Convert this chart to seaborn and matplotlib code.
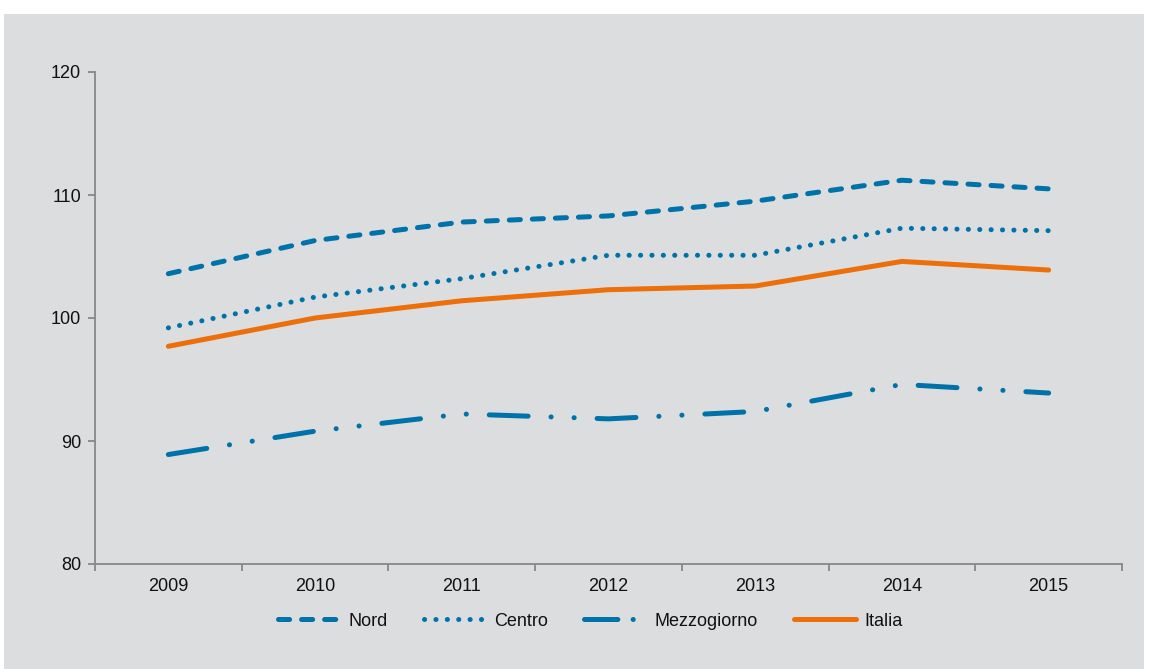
import pandas as pd
import matplotlib
matplotlib.use("Agg")
import matplotlib.pyplot as plt
from matplotlib.lines import Line2D
from matplotlib.patches import Rectangle
import seaborn as sns

# Data (index values)
anni = ["2009", "2010", "2011", "2012", "2013", "2014", "2015"]
nord = [103.6, 106.3, 107.8, 108.3, 109.5, 111.2, 110.5]
centro = [99.2, 101.7, 103.2, 105.1, 105.1, 107.3, 107.1]
mezzogiorno = [88.9, 90.8, 92.2, 91.8, 92.4, 94.6, 93.9]
italia = [97.7, 100.0, 101.4, 102.3, 102.6, 104.6, 103.9]

series = {"Nord": nord, "Centro": centro, "Mezzogiorno": mezzogiorno, "Italia": italia}
df = pd.DataFrame([
    {"anno": i, "area": nome, "valore": v}
    for nome, vals in series.items()
    for i, v in enumerate(vals)
])

bg = "#DCDDDF"
blu = "#0072AA"
arancio = "#EC6F0A"
grigio = "#878787"
testo = "#111111"

sns.set_theme(style="white")
plt.rcParams["font.family"] = ["Liberation Sans", "DejaVu Sans"]
plt.rcParams["lines.scale_dashes"] = False

fig = plt.figure(figsize=(11.49, 6.69), dpi=100)
fig.patch.set_facecolor("white")
fig.patches.append(Rectangle((4 / 1149, 0), 1140 / 1149, 655 / 669,
                             transform=fig.transFigure, facecolor=bg,
                             edgecolor="none", zorder=-10))

ax = fig.add_axes([95 / 1149, 105 / 669, 1027 / 1149, 492 / 669])
ax.set_facecolor("none")

palette = {"Nord": blu, "Centro": blu, "Mezzogiorno": blu, "Italia": arancio}
dashes = {
    "Nord": (8, 8.6),
    "Centro": (0.1, 8.1),
    "Mezzogiorno": (28, 16.5, 0.1, 16.5, 0.1, 16.5),
    "Italia": "",
}
sns.lineplot(data=df, x="anno", y="valore", hue="area", style="area",
             palette=palette, dashes=dashes, linewidth=3.6, ax=ax,
             legend=False)
for line in ax.get_lines():
    line.set_dash_capstyle("round")
    line.set_solid_capstyle("round")

ax.set_xlim(-0.5, 6.5)
ax.set_ylim(80, 120)
ax.set_yticks([80, 90, 100, 110, 120])
ax.set_xticks(range(len(anni)))
ax.set_xticklabels(anni)
ax.set_xticks([i + 0.5 for i in range(-1, 7)], minor=True)
ax.set_xlabel("")
ax.set_ylabel("")

for s in ["top", "right"]:
    ax.spines[s].set_visible(False)
for s in ["left", "bottom"]:
    ax.spines[s].set_color(grigio)
    ax.spines[s].set_linewidth(1.3)

ax.tick_params(axis="y", which="major", length=5, width=1.3, color=grigio,
               labelsize=13, labelcolor=testo, pad=5, left=True)
ax.tick_params(axis="x", which="major", length=0, labelsize=13,
               labelcolor=testo, pad=10)
ax.tick_params(axis="x", which="minor", length=5, width=1.3, color=grigio,
               bottom=True)

# Legend (shorter patterns so each handle shows its style)
legend_dashes = {
    "Nord": (8, 8.6),
    "Centro": (0.1, 8.1),
    "Mezzogiorno": (24, 11, 0.1, 30),
    "Italia": None,
}
handles = []
for nome in series:
    h = Line2D([], [], color=palette[nome], linewidth=3.6, label=nome)
    if legend_dashes[nome]:
        h.set_dashes(legend_dashes[nome])
    h.set_dash_capstyle("round")
    h.set_solid_capstyle("round")
    handles.append(h)
leg = fig.legend(handles=handles, loc="center", bbox_to_anchor=(0.514, 1 - 621 / 669),
                 ncol=4, frameon=False, fontsize=13, handlelength=3.4,
                 handletextpad=0.5, columnspacing=2.0)
for t in leg.get_texts():
    t.set_color(testo)

fig.savefig("out.png", dpi=100, facecolor=fig.get_facecolor())
